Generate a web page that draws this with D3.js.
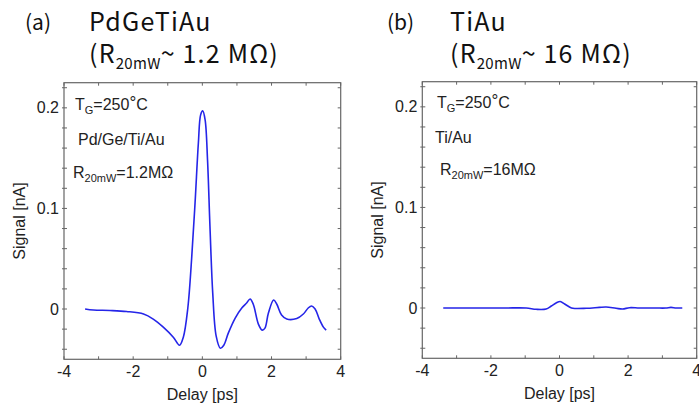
<!doctype html>
<html>
  <head>
    <meta charset="utf-8">
    <title>Delay scans</title>
    <style>
      * { margin: 0; padding: 0; }
      body { background: #fff; }
      svg text { font-family: "Liberation Sans", Arial, sans-serif; fill: #222; }
      .ttl { font-family: "Noto Sans CJK JP", "Noto Sans", sans-serif; fill: #111; }
    </style>
    <script src="https://d3js.org/d3.v7.min.js"></script>
  </head>
  <body>
    <div id="chart"></div>
    <script>
    // ---- data ----
    const delayA  = [-3.39,-3.15,-2.67,-2.19,-1.70,-1.42,-1.13,-0.84,-0.66,-0.55,-0.42,-0.31,-0.21,-0.115,-0.05,0.01,0.08,0.15,0.22,0.30,0.40,0.52,0.62,0.75,0.95,1.14,1.28,1.38,1.47,1.62,1.73,1.81,1.91,2.06,2.15,2.29,2.44,2.73,2.92,3.06,3.16,3.26,3.38,3.50,3.58];
    const signalA = [0,-0.001,-0.0015,-0.0025,-0.005,-0.010,-0.018,-0.028,-0.036,-0.028,0.001,0.050,0.106,0.165,0.193,0.197,0.188,0.148,0.082,0.016,-0.027,-0.039,-0.036,-0.024,-0.009,0.001,0.006,0.010,0.005,-0.015,-0.021,-0.019,-0.004,0.009,0.005,-0.006,-0.010,-0.0095,-0.005,0.001,0.003,0,-0.010,-0.018,-0.021];

    const delayB  = [-3.39,-2.5,-1.6,-0.97,-0.68,-0.39,-0.24,-0.10,0.02,0.15,0.29,0.39,0.78,1.16,1.36,1.65,1.84,2.04,2.33,2.8,3.1,3.25,3.4,3.58];
    const signalB = [0,0,0,0,-0.0013,-0.001,0.002,0.005,0.0065,0.004,0.001,-0.0003,-0.0003,0.0006,0.001,-0.0003,-0.001,0.0003,0,0,0,0.0006,0,0];

    const xTicks = [-4,-3,-2,-1,0,1,2,3,4];
    const xLabels = [-4,-2,0,2,4];
    const yTicks = [-0.04,-0.02,0,0.02,0.04,0.06,0.08,0.1,0.12,0.14,0.16,0.18,0.2,0.22];
    const yLabels = [0,0.1,0.2];

    const W = 699, H = 414;
    const svg = d3.select("#chart").append("svg").attr("width", W).attr("height", H);

    const fmt = d => (d < 0 ? "-" : "") + Math.abs(d);

    function panel(o) {
      const x = d3.scaleLinear().domain([-4, 4]).range([o.left, o.right]);
      const y = d3.scaleLinear().domain([-0.05, 0.225]).range([o.bottom, o.top]);
      const g = svg.append("g");

      // frame
      g.append("rect")
        .attr("x", o.left).attr("y", o.top)
        .attr("width", o.right - o.left).attr("height", o.bottom - o.top)
        .attr("fill", "none").attr("stroke", "#666").attr("stroke-width", 1.2);

      // ticks inside on all four sides
      const tk = 3;
      xTicks.forEach(t => {
        g.append("line").attr("x1", x(t)).attr("x2", x(t)).attr("y1", o.bottom).attr("y2", o.bottom - tk).attr("stroke", "#666");
        g.append("line").attr("x1", x(t)).attr("x2", x(t)).attr("y1", o.top).attr("y2", o.top + tk).attr("stroke", "#666");
      });
      yTicks.forEach(t => {
        g.append("line").attr("x1", o.left - 2).attr("x2", o.left + tk).attr("y1", y(t)).attr("y2", y(t)).attr("stroke", "#666");
        g.append("line").attr("x1", o.right).attr("x2", o.right - tk).attr("y1", y(t)).attr("y2", y(t)).attr("stroke", "#666");
      });

      g.selectAll(".xl").data(xLabels).join("text")
        .attr("x", d => x(d)).attr("y", o.bottom + 18)
        .attr("text-anchor", "middle").style("font-size", "16px")
        .text(fmt);
      g.selectAll(".yl").data(yLabels).join("text")
        .attr("x", o.left - 5).attr("y", d => y(d) + 5.5)
        .attr("text-anchor", "end").style("font-size", "16px")
        .text(fmt);

      g.append("text")
        .attr("x", (o.left + o.right) / 2).attr("y", o.bottom + 41)
        .attr("text-anchor", "middle").style("font-size", "16px")
        .text("Delay [ps]");
      g.append("text")
        .attr("transform", "translate(" + (o.left - 39) + "," + ((o.top + o.bottom) / 2) + ") rotate(-90)")
        .attr("text-anchor", "middle").style("font-size", "16px")
        .text("Signal [nA]");

      // curve
      const line = d3.line().x(d => x(d[0])).y(d => y(d[1])).curve(d3.curveCatmullRom.alpha(0.5));
      g.append("path")
        .datum(d3.zip(o.delay, o.signal))
        .attr("d", line)
        .attr("fill", "none").attr("stroke", "#2525e8").attr("stroke-width", 1.6);

      // annotations
      const tg = g.append("text").attr("x", o.ax1).attr("y", o.ay1).style("font-size", "16px");
      tg.append("tspan").text("T");
      tg.append("tspan").attr("dy", 4).style("font-size", "11px").text("G");
      tg.append("tspan").attr("dy", -4).text("=250");
      tg.append("tspan").attr("dy", -2).style("font-size", "17px").text("\u00B0");
      tg.append("tspan").attr("dy", 2).text("C");

      g.append("text").attr("x", o.ax2).attr("y", o.ay2).style("font-size", "16px").text(o.metal);

      const rr = g.append("text").attr("x", o.ax3).attr("y", o.ay3).style("font-size", "16px");
      rr.append("tspan").text("R");
      rr.append("tspan").attr("dy", 4).style("font-size", "11px").text("20mW");
      rr.append("tspan").attr("dy", -4).text(o.res);

      // titles
      svg.append("text").attr("class", "ttl").attr("x", o.tx0).attr("y", 30)
        .style("font-size", "21px").text(o.tag);
      svg.append("text").attr("class", "ttl").attr("x", o.tx).attr("y", 31)
        .style("font-size", "25px").style("letter-spacing", "1.2px").text(o.name);
      const t2 = svg.append("text").attr("class", "ttl").attr("x", o.tx).attr("y", 63)
        .style("font-size", "25px").style("letter-spacing", "1.2px");
      t2.append("tspan").text("(R");
      t2.append("tspan").attr("dy", 6).style("font-size", "15px").style("letter-spacing", "0.3px").text("20mW");
      t2.append("tspan").attr("dy", -6).text(o.title2);
    }

    panel({
      left: 64, right: 340.7, top: 82.7, bottom: 359.3,
      delay: delayA, signal: signalA,
      metal: "Pd/Ge/Ti/Au", res: "=1.2M\u03A9",
      ax1: 75, ay1: 110, ax2: 78, ay2: 145, ax3: 73, ay3: 178,
      tag: "(a)", tx0: 25, name: "PdGeTiAu", tx: 89, title2: "~ 1.2 M\u03A9)"
    });
    panel({
      left: 422.3, right: 696.7, top: 81.7, bottom: 358.3,
      delay: delayB, signal: signalB,
      metal: "Ti/Au", res: "=16M\u03A9",
      ax1: 437, ay1: 108, ax2: 435, ay2: 143, ax3: 440, ay3: 175,
      tag: "(b)", tx0: 387, name: "TiAu", tx: 450, title2: "~ 16 M\u03A9)"
    });
    </script>
  </body>
</html>
